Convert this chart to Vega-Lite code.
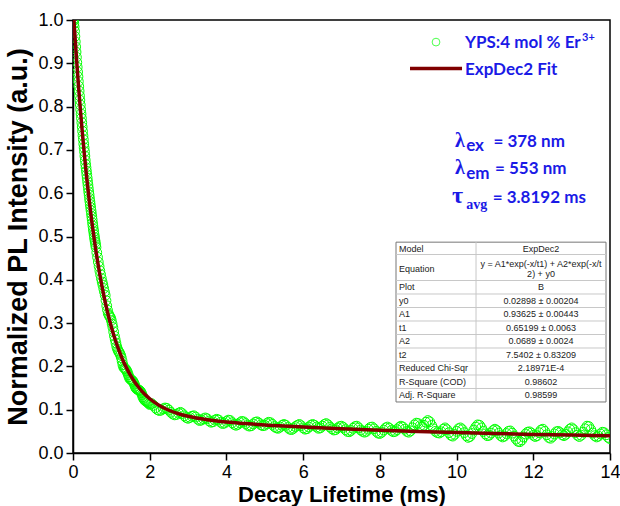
{
  "$schema": "https://vega.github.io/schema/vega-lite/v6.json",
  "width": 537,
  "height": 433,
  "autosize": {"type": "none"},
  "padding": {"left": 73, "top": 20, "right": 10, "bottom": 53},
  "background": "white",
  "config": {
    "view": {"stroke": "black", "strokeWidth": 1.5},
    "axis": {
      "labelFont": "Liberation Sans", "labelFontSize": 18, "labelColor": "#000",
      "tickColor": "#000", "tickSize": 7, "tickWidth": 1.5,
      "domainColor": "#000", "domainWidth": 1.5, "grid": false,
      "titleFont": "Liberation Sans", "titleFontSize": 22, "titleFontWeight": "bold", "titleColor": "#000",
      "labelFlush": false, "labelOverlap": false
    },
    "axisX": {"labelPadding": 3, "titlePadding": 3},
    "axisY": {"labelPadding": 3, "titlePadding": 5, "titleFontSize": 27}
  },
  "datasets": {
    "pts": [
      {"t":0,"v":1.000},{"t":0.01,"v":0.998},{"t":0.02,"v":0.992},{"t":0.03,"v":0.984},{"t":0.04,"v":0.974},{"t":0.05,"v":0.962},{"t":0.06,"v":0.950},{"t":0.07,"v":0.938},{"t":0.08,"v":0.926},{"t":0.09,"v":0.914},
      {"t":0.10,"v":0.902},{"t":0.11,"v":0.891},{"t":0.12,"v":0.880},{"t":0.13,"v":0.869},{"t":0.14,"v":0.858},{"t":0.15,"v":0.847},{"t":0.16,"v":0.836},{"t":0.17,"v":0.825},{"t":0.18,"v":0.815},{"t":0.19,"v":0.804},
      {"t":0.20,"v":0.793},{"t":0.21,"v":0.783},{"t":0.22,"v":0.773},{"t":0.23,"v":0.763},{"t":0.24,"v":0.753},{"t":0.25,"v":0.743},{"t":0.26,"v":0.733},{"t":0.27,"v":0.724},{"t":0.28,"v":0.714},{"t":0.29,"v":0.705},
      {"t":0.30,"v":0.696},{"t":0.31,"v":0.686},{"t":0.32,"v":0.676},{"t":0.33,"v":0.667},{"t":0.34,"v":0.659},{"t":0.35,"v":0.651},{"t":0.36,"v":0.643},{"t":0.37,"v":0.635},{"t":0.38,"v":0.627},{"t":0.39,"v":0.619},
      {"t":0.40,"v":0.611},{"t":0.41,"v":0.603},{"t":0.42,"v":0.596},{"t":0.43,"v":0.588},{"t":0.44,"v":0.581},{"t":0.45,"v":0.574},{"t":0.46,"v":0.567},{"t":0.47,"v":0.560},{"t":0.48,"v":0.553},{"t":0.49,"v":0.546},
      {"t":0.50,"v":0.539},{"t":0.51,"v":0.531},{"t":0.52,"v":0.524},{"t":0.53,"v":0.517},{"t":0.54,"v":0.511},{"t":0.55,"v":0.504},{"t":0.56,"v":0.498},{"t":0.57,"v":0.492},{"t":0.58,"v":0.487},{"t":0.59,"v":0.481},
      {"t":0.60,"v":0.475},{"t":0.62,"v":0.463},{"t":0.64,"v":0.452},{"t":0.66,"v":0.441},{"t":0.68,"v":0.431},{"t":0.70,"v":0.421},{"t":0.72,"v":0.412},{"t":0.74,"v":0.403},{"t":0.76,"v":0.395},{"t":0.78,"v":0.388},
      {"t":0.80,"v":0.380},{"t":0.82,"v":0.372},{"t":0.84,"v":0.364},{"t":0.86,"v":0.352},{"t":0.88,"v":0.340},{"t":0.90,"v":0.330},{"t":0.92,"v":0.322},{"t":0.94,"v":0.318},{"t":0.96,"v":0.315},{"t":0.98,"v":0.312},
      {"t":1.00,"v":0.306},{"t":1.02,"v":0.298},{"t":1.04,"v":0.290},{"t":1.06,"v":0.280},{"t":1.08,"v":0.270},{"t":1.10,"v":0.262},{"t":1.12,"v":0.254},{"t":1.14,"v":0.246},{"t":1.16,"v":0.240},{"t":1.18,"v":0.236},
      {"t":1.20,"v":0.233},{"t":1.22,"v":0.230},{"t":1.24,"v":0.226},{"t":1.26,"v":0.220},{"t":1.28,"v":0.212},{"t":1.30,"v":0.204},{"t":1.32,"v":0.198},{"t":1.34,"v":0.196},{"t":1.36,"v":0.195},{"t":1.38,"v":0.193},
      {"t":1.40,"v":0.190},{"t":1.42,"v":0.186},{"t":1.44,"v":0.181},{"t":1.46,"v":0.176},{"t":1.48,"v":0.172},{"t":1.50,"v":0.170},{"t":1.52,"v":0.169},{"t":1.54,"v":0.168},{"t":1.56,"v":0.166},{"t":1.58,"v":0.163},
      {"t":1.60,"v":0.159},{"t":1.62,"v":0.154},{"t":1.64,"v":0.150},{"t":1.66,"v":0.148},{"t":1.68,"v":0.147},{"t":1.70,"v":0.146},{"t":1.72,"v":0.145},{"t":1.74,"v":0.144},{"t":1.76,"v":0.142},{"t":1.78,"v":0.139},
      {"t":1.80,"v":0.135},{"t":1.82,"v":0.130},{"t":1.84,"v":0.126},{"t":1.86,"v":0.123},{"t":1.88,"v":0.121},{"t":1.90,"v":0.120},{"t":1.92,"v":0.119},{"t":1.94,"v":0.118},{"t":1.96,"v":0.116},{"t":1.98,"v":0.114},
      {"t":2.00,"v":0.112},{"t":2.05,"v":0.114},{"t":2.10,"v":0.110},{"t":2.15,"v":0.104},{"t":2.20,"v":0.100},{"t":2.25,"v":0.098},{"t":2.30,"v":0.099},{"t":2.35,"v":0.102},{"t":2.40,"v":0.104},{"t":2.45,"v":0.103},
      {"t":2.50,"v":0.099},{"t":2.55,"v":0.094},{"t":2.60,"v":0.090},{"t":2.65,"v":0.088},{"t":2.70,"v":0.089},{"t":2.75,"v":0.092},{"t":2.80,"v":0.094},{"t":2.85,"v":0.091},{"t":2.90,"v":0.086},{"t":2.95,"v":0.082},
      {"t":3.00,"v":0.080},{"t":3.05,"v":0.082},{"t":3.10,"v":0.085},{"t":3.15,"v":0.086},{"t":3.20,"v":0.083},{"t":3.25,"v":0.078},{"t":3.30,"v":0.075},{"t":3.35,"v":0.076},{"t":3.40,"v":0.079},{"t":3.45,"v":0.081},
      {"t":3.50,"v":0.079},{"t":3.55,"v":0.074},{"t":3.60,"v":0.071},{"t":3.65,"v":0.072},{"t":3.70,"v":0.076},{"t":3.75,"v":0.078},{"t":3.80,"v":0.076},{"t":3.85,"v":0.071},{"t":3.90,"v":0.068},{"t":3.95,"v":0.069},
      {"t":4.00,"v":0.073},{"t":4.05,"v":0.076},{"t":4.10,"v":0.075},{"t":4.15,"v":0.070},{"t":4.20,"v":0.066},{"t":4.25,"v":0.064},{"t":4.30,"v":0.066},{"t":4.35,"v":0.070},{"t":4.40,"v":0.073},{"t":4.45,"v":0.072},
      {"t":4.50,"v":0.068},{"t":4.55,"v":0.064},{"t":4.60,"v":0.062},{"t":4.65,"v":0.063},{"t":4.70,"v":0.067},{"t":4.75,"v":0.071},{"t":4.80,"v":0.072},{"t":4.85,"v":0.069},{"t":4.90,"v":0.065},{"t":4.95,"v":0.063},
      {"t":5.00,"v":0.064},{"t":5.05,"v":0.068},{"t":5.10,"v":0.071},{"t":5.15,"v":0.070},{"t":5.20,"v":0.066},{"t":5.25,"v":0.061},{"t":5.30,"v":0.058},{"t":5.35,"v":0.057},{"t":5.40,"v":0.060},{"t":5.45,"v":0.064},
      {"t":5.50,"v":0.066},{"t":5.55,"v":0.064},{"t":5.60,"v":0.059},{"t":5.65,"v":0.055},{"t":5.70,"v":0.054},{"t":5.75,"v":0.057},{"t":5.80,"v":0.061},{"t":5.85,"v":0.064},{"t":5.90,"v":0.066},{"t":5.95,"v":0.063},
      {"t":6.00,"v":0.058},{"t":6.05,"v":0.055},{"t":6.10,"v":0.056},{"t":6.15,"v":0.060},{"t":6.20,"v":0.064},{"t":6.25,"v":0.066},{"t":6.30,"v":0.064},{"t":6.35,"v":0.060},{"t":6.40,"v":0.057},{"t":6.45,"v":0.058},
      {"t":6.50,"v":0.062},{"t":6.55,"v":0.066},{"t":6.60,"v":0.068},{"t":6.65,"v":0.065},{"t":6.70,"v":0.060},{"t":6.75,"v":0.056},{"t":6.80,"v":0.053},{"t":6.85,"v":0.054},{"t":6.90,"v":0.058},{"t":6.95,"v":0.061},
      {"t":7.00,"v":0.062},{"t":7.05,"v":0.059},{"t":7.10,"v":0.054},{"t":7.15,"v":0.050},{"t":7.20,"v":0.049},{"t":7.25,"v":0.052},{"t":7.30,"v":0.057},{"t":7.35,"v":0.061},{"t":7.40,"v":0.062},{"t":7.45,"v":0.058},
      {"t":7.50,"v":0.053},{"t":7.55,"v":0.050},{"t":7.60,"v":0.048},{"t":7.65,"v":0.050},{"t":7.70,"v":0.055},{"t":7.75,"v":0.059},{"t":7.80,"v":0.060},{"t":7.85,"v":0.056},{"t":7.90,"v":0.050},{"t":7.95,"v":0.046},
      {"t":8.00,"v":0.045},{"t":8.05,"v":0.048},{"t":8.10,"v":0.053},{"t":8.15,"v":0.058},{"t":8.20,"v":0.060},{"t":8.25,"v":0.057},{"t":8.30,"v":0.052},{"t":8.35,"v":0.049},{"t":8.40,"v":0.050},{"t":8.45,"v":0.054},
      {"t":8.50,"v":0.059},{"t":8.55,"v":0.062},{"t":8.60,"v":0.060},{"t":8.65,"v":0.055},{"t":8.70,"v":0.050},{"t":8.75,"v":0.048},{"t":8.80,"v":0.051},{"t":8.85,"v":0.058},{"t":8.90,"v":0.065},{"t":8.95,"v":0.069},
      {"t":9.00,"v":0.068},{"t":9.05,"v":0.063},{"t":9.10,"v":0.060},{"t":9.15,"v":0.064},{"t":9.20,"v":0.071},{"t":9.25,"v":0.075},{"t":9.30,"v":0.072},{"t":9.35,"v":0.064},{"t":9.40,"v":0.056},{"t":9.45,"v":0.050},
      {"t":9.50,"v":0.047},{"t":9.55,"v":0.046},{"t":9.60,"v":0.049},{"t":9.65,"v":0.055},{"t":9.70,"v":0.058},{"t":9.75,"v":0.054},{"t":9.80,"v":0.047},{"t":9.85,"v":0.041},{"t":9.90,"v":0.039},{"t":9.95,"v":0.043},
      {"t":10.00,"v":0.050},{"t":10.05,"v":0.056},{"t":10.10,"v":0.058},{"t":10.15,"v":0.054},{"t":10.20,"v":0.047},{"t":10.25,"v":0.040},{"t":10.30,"v":0.036},{"t":10.35,"v":0.038},{"t":10.40,"v":0.045},{"t":10.45,"v":0.053},
      {"t":10.50,"v":0.060},{"t":10.55,"v":0.065},{"t":10.60,"v":0.064},{"t":10.65,"v":0.058},{"t":10.70,"v":0.050},{"t":10.75,"v":0.044},{"t":10.80,"v":0.040},{"t":10.85,"v":0.041},{"t":10.90,"v":0.046},{"t":10.95,"v":0.052},
      {"t":11.00,"v":0.055},{"t":11.05,"v":0.052},{"t":11.10,"v":0.046},{"t":11.15,"v":0.040},{"t":11.20,"v":0.037},{"t":11.25,"v":0.039},{"t":11.30,"v":0.045},{"t":11.35,"v":0.050},{"t":11.40,"v":0.051},{"t":11.45,"v":0.046},
      {"t":11.50,"v":0.039},{"t":11.55,"v":0.032},{"t":11.60,"v":0.027},{"t":11.65,"v":0.026},{"t":11.70,"v":0.030},{"t":11.75,"v":0.037},{"t":11.80,"v":0.044},{"t":11.85,"v":0.048},{"t":11.90,"v":0.049},{"t":11.95,"v":0.046},
      {"t":12.00,"v":0.041},{"t":12.05,"v":0.038},{"t":12.10,"v":0.040},{"t":12.15,"v":0.047},{"t":12.20,"v":0.053},{"t":12.25,"v":0.055},{"t":12.30,"v":0.050},{"t":12.35,"v":0.042},{"t":12.40,"v":0.036},{"t":12.45,"v":0.034},
      {"t":12.50,"v":0.038},{"t":12.55,"v":0.044},{"t":12.60,"v":0.049},{"t":12.65,"v":0.050},{"t":12.70,"v":0.047},{"t":12.75,"v":0.042},{"t":12.80,"v":0.040},{"t":12.85,"v":0.043},{"t":12.90,"v":0.049},{"t":12.95,"v":0.055},
      {"t":13.00,"v":0.058},{"t":13.05,"v":0.054},{"t":13.10,"v":0.047},{"t":13.15,"v":0.041},{"t":13.20,"v":0.038},{"t":13.25,"v":0.041},{"t":13.30,"v":0.048},{"t":13.35,"v":0.056},{"t":13.40,"v":0.062},{"t":13.45,"v":0.061},
      {"t":13.50,"v":0.054},{"t":13.55,"v":0.046},{"t":13.60,"v":0.040},{"t":13.65,"v":0.037},{"t":13.70,"v":0.039},{"t":13.75,"v":0.044},{"t":13.80,"v":0.048},{"t":13.85,"v":0.047},{"t":13.90,"v":0.042},{"t":13.95,"v":0.036},
      {"t":14.00,"v":0.033}
    ],
    "fit": [
      {"t":0,"v":1.0341},{"t":0.05,"v":0.9646},{"t":0.1,"v":0.9001},{"t":0.15,"v":0.8404},{"t":0.2,"v":0.7850},{"t":0.25,"v":0.7337},{"t":0.3,"v":0.6862},{"t":0.35,"v":0.6421},{"t":0.4,"v":0.6013},{"t":0.45,"v":0.5634},
      {"t":0.5,"v":0.5283},{"t":0.55,"v":0.4958},{"t":0.6,"v":0.4656},{"t":0.65,"v":0.4376},{"t":0.7,"v":0.4117},{"t":0.8,"v":0.3653},{"t":0.9,"v":0.3255},{"t":1.0,"v":0.2912},{"t":1.1,"v":0.2617},{"t":1.2,"v":0.2362},
      {"t":1.3,"v":0.2143},{"t":1.4,"v":0.1954},{"t":1.5,"v":0.1791},{"t":1.6,"v":0.1651},{"t":1.7,"v":0.1529},{"t":1.8,"v":0.1424},{"t":1.9,"v":0.1332},{"t":2.0,"v":0.1253},{"t":2.25,"v":0.1098},{"t":2.5,"v":0.0987},
      {"t":2.75,"v":0.0906},{"t":3.0,"v":0.0847},{"t":3.5,"v":0.0767},{"t":4.0,"v":0.0715},{"t":4.5,"v":0.0679},{"t":5,"v":0.0649},{"t":6,"v":0.0602},{"t":7,"v":0.0562},{"t":8,"v":0.0528},{"t":9,"v":0.0499},
      {"t":10,"v":0.0473},{"t":11,"v":0.0450},{"t":12,"v":0.0430},{"t":13,"v":0.0413},{"t":14,"v":0.0397}
    ],
    "tbl": [
      {"param":"Model","value":"ExpDec2","k":0.15},
      {"param":"Equation","value":"","k":1.63},
      {"param":"","value":"y = A1*exp(-x/t1) + A2*exp(-x/t","k":1.26},
      {"param":"","value":"2) + y0","k":2.0},
      {"param":"Plot","value":"B","k":3},
      {"param":"y0","value":"0.02898 ± 0.00204","k":4},
      {"param":"A1","value":"0.93625 ± 0.00443","k":5},
      {"param":"t1","value":"0.65199 ± 0.0063","k":6},
      {"param":"A2","value":"0.0689 ± 0.0024","k":7},
      {"param":"t2","value":"7.5402 ± 0.83209","k":8},
      {"param":"Reduced Chi-Sqr","value":"2.18971E-4","k":9},
      {"param":"R-Square (COD)","value":"0.98602","k":10},
      {"param":"Adj. R-Square","value":"0.98599","k":11}
    ],
    "rows": [
      {"k":0.574},{"k":2.5},{"k":3.5},{"k":4.5},{"k":5.5},{"k":6.5},{"k":7.5},{"k":8.5},{"k":9.5},{"k":10.5}
    ],
    "one": [{}]
  },
  "layer": [
    {
      "layer": [
        {
          "data": {"name": "pts"},
          "mark": {"type": "point", "shape": "circle", "filled": false, "size": 95, "stroke": "#00ff00", "strokeWidth": 1, "opacity": 1, "clip": true},
          "encoding": {
            "x": {"field": "t", "type": "quantitative", "scale": {"domain": [0, 14], "nice": false}, "axis": {"title": "Decay Lifetime (ms)", "values": [0, 2, 4, 6, 8, 10, 12, 14]}},
            "y": {"field": "v", "type": "quantitative", "scale": {"domain": [0, 1], "nice": false}, "axis": {"title": "Normalized PL Intensity (a.u.)", "values": [0, 0.1, 0.2, 0.3, 0.4, 0.5, 0.6, 0.7, 0.8, 0.9, 1.0], "format": ".1f"}}
          }
        },
        {
          "data": {"name": "fit"},
          "mark": {"type": "line", "color": "#800000", "strokeWidth": 3.5, "clip": true, "interpolate": "monotone"},
          "encoding": {
            "x": {"field": "t", "type": "quantitative"},
            "y": {"field": "v", "type": "quantitative"}
          }
        },
        {
          "data": {"name": "one"},
          "mark": {"type": "point", "shape": "circle", "filled": false, "size": 60, "stroke": "#00ff00", "strokeWidth": 1},
          "encoding": {"x": {"datum": 9.464}, "y": {"datum": 0.949}}
        },
        {
          "data": {"name": "one"},
          "mark": {"type": "rule", "color": "#800000", "strokeWidth": 3.5},
          "encoding": {"x": {"datum": 8.786}, "x2": {"datum": 10.142}, "y": {"datum": 0.888}}
        },
        {
          "data": {"name": "one"},
          "mark": {"type": "text", "text": "YPS:4 mol % Er", "align": "left", "baseline": "alphabetic", "font": "Lato", "fontWeight": "bold", "fontSize": 17, "color": "#1a1ae6"},
          "encoding": {"x": {"datum": 10.22}, "y": {"datum": 0.935}}
        },
        {
          "data": {"name": "one"},
          "mark": {"type": "text", "text": "3+", "align": "left", "baseline": "alphabetic", "font": "Lato", "fontWeight": "bold", "fontSize": 11, "color": "#1a1ae6"},
          "encoding": {"x": {"datum": 13.27}, "y": {"datum": 0.952}}
        },
        {
          "data": {"name": "one"},
          "mark": {"type": "text", "text": "ExpDec2 Fit", "align": "left", "baseline": "alphabetic", "font": "Lato", "fontWeight": "bold", "fontSize": 17, "color": "#1a1ae6"},
          "encoding": {"x": {"datum": 10.22}, "y": {"datum": 0.872}}
        },
        {
          "data": {"name": "one"},
          "mark": {"type": "text", "text": "λ", "align": "left", "baseline": "alphabetic", "font": "Liberation Serif", "fontWeight": "bold", "fontSize": 20, "color": "#1a1ae6"},
          "encoding": {"x": {"datum": 9.959}, "y": {"datum": 0.7074}}
        },
        {
          "data": {"name": "one"},
          "mark": {"type": "text", "text": "ex", "align": "left", "baseline": "alphabetic", "font": "Lato", "fontWeight": "bold", "fontSize": 17, "color": "#1a1ae6"},
          "encoding": {"x": {"datum": 10.25}, "y": {"datum": 0.6975}}
        },
        {
          "data": {"name": "one"},
          "mark": {"type": "text", "text": "= 378 nm", "align": "left", "baseline": "alphabetic", "font": "Lato", "fontWeight": "bold", "fontSize": 17, "color": "#1a1ae6"},
          "encoding": {"x": {"datum": 10.96}, "y": {"datum": 0.7074}}
        },
        {
          "data": {"name": "one"},
          "mark": {"type": "text", "text": "λ", "align": "left", "baseline": "alphabetic", "font": "Liberation Serif", "fontWeight": "bold", "fontSize": 20, "color": "#1a1ae6"},
          "encoding": {"x": {"datum": 9.959}, "y": {"datum": 0.6436}}
        },
        {
          "data": {"name": "one"},
          "mark": {"type": "text", "text": "em", "align": "left", "baseline": "alphabetic", "font": "Lato", "fontWeight": "bold", "fontSize": 17, "color": "#1a1ae6"},
          "encoding": {"x": {"datum": 10.25}, "y": {"datum": 0.632}}
        },
        {
          "data": {"name": "one"},
          "mark": {"type": "text", "text": "= 553 nm", "align": "left", "baseline": "alphabetic", "font": "Lato", "fontWeight": "bold", "fontSize": 17, "color": "#1a1ae6"},
          "encoding": {"x": {"datum": 11.002}, "y": {"datum": 0.6436}}
        },
        {
          "data": {"name": "one"},
          "mark": {"type": "text", "text": "τ", "align": "left", "baseline": "alphabetic", "font": "Liberation Serif", "fontWeight": "bold", "fontSize": 24, "color": "#1a1ae6"},
          "encoding": {"x": {"datum": 9.88}, "y": {"datum": 0.578}}
        },
        {
          "data": {"name": "one"},
          "mark": {"type": "text", "text": "avg", "align": "left", "baseline": "alphabetic", "font": "Liberation Serif", "fontWeight": "bold", "fontSize": 14, "color": "#1a1ae6"},
          "encoding": {"x": {"datum": 10.25}, "y": {"datum": 0.5635}}
        },
        {
          "data": {"name": "one"},
          "mark": {"type": "text", "text": "= 3.8192 ms", "align": "left", "baseline": "alphabetic", "font": "Lato", "fontWeight": "bold", "fontSize": 17, "color": "#1a1ae6"},
          "encoding": {"x": {"datum": 10.942}, "y": {"datum": 0.578}}
        }
      ]
    },
    {
      "layer": [
        {
          "data": {"name": "one"},
          "mark": {"type": "rect", "fill": "white", "stroke": "#777777", "strokeWidth": 1},
          "encoding": {
            "x": {"datum": 8.421}, "x2": {"datum": 13.896},
            "y": {"datum": -0.34, "scale": {"domain": [-16.8, 15.28], "reverse": true, "nice": false, "zero": false}, "axis": null}, "y2": {"datum": 11.5}
          }
        },
        {
          "data": {"name": "rows"},
          "mark": {"type": "rule", "color": "#c8c8c8", "strokeWidth": 1},
          "encoding": {
            "x": {"datum": 8.421}, "x2": {"datum": 13.896},
            "y": {"field": "k", "type": "quantitative", "axis": null}
          }
        },
        {
          "data": {"name": "one"},
          "mark": {"type": "rule", "color": "#c8c8c8", "strokeWidth": 1},
          "encoding": {
            "x": {"datum": 10.507},
            "y": {"datum": -0.34, "axis": null}, "y2": {"datum": 11.5}
          }
        },
        {
          "data": {"name": "tbl"},
          "mark": {"type": "text", "align": "left", "baseline": "middle", "font": "Liberation Sans", "fontSize": 9, "color": "#222222"},
          "encoding": {
            "x": {"datum": 8.499},
            "y": {"field": "k", "type": "quantitative", "axis": null},
            "text": {"field": "param"}
          }
        },
        {
          "data": {"name": "tbl"},
          "mark": {"type": "text", "align": "center", "baseline": "middle", "font": "Liberation Sans", "fontSize": 9, "color": "#222222"},
          "encoding": {
            "x": {"datum": 12.201},
            "y": {"field": "k", "type": "quantitative", "axis": null},
            "text": {"field": "value"}
          }
        }
      ]
    }
  ],
  "resolve": {"scale": {"y": "independent"}}
}
